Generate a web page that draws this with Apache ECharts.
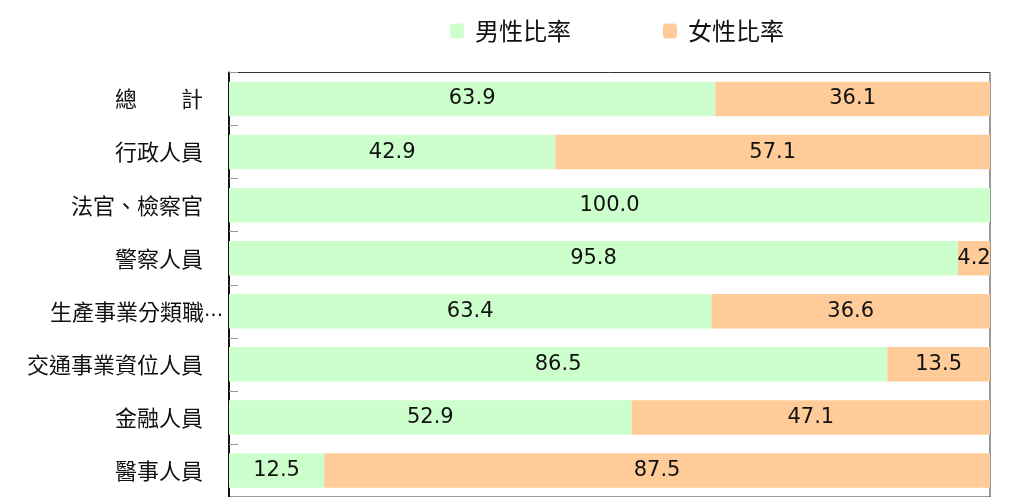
<!DOCTYPE html>
<html>
<head>
<meta charset="utf-8">
<script src="https://cdn.jsdelivr.net/npm/echarts@6/dist/echarts.min.js"></script>
<style>
html,body{margin:0;padding:0;background:#fff;}
#chart{width:1021px;height:497px;}
</style>
</head>
<body>
<div id="chart"></div>
<script>
const categories = ['總　　計','行政人員','法官、檢察官','警察人員','生產事業分類職位人員','交通事業資位人員','金融人員','醫事人員'];
const maleRatio = [63.9, 42.9, 100.0, 95.8, 63.4, 86.5, 52.9, 12.5];
const femaleRatio = [36.1, 57.1, 0, 4.2, 36.6, 13.5, 47.1, 87.5];
const seriesNames = ['男性比率','女性比率'];

const chart = echarts.init(document.getElementById('chart'));
const labelFmt = p => p.value > 0 ? p.value.toFixed(1) : '';
const axisData = categories.map(c => c.length > 8
  ? {value: c, textStyle: {padding: [0, -20, 0, 0]}}
  : c);
chart.setOption({
  animation: false,
  legend: {
    left: 445, top: 14,
    itemWidth: 14, itemHeight: 15, itemGap: 92,
    textStyle: {fontSize: 24, color: '#111', fontFamily: 'Noto Sans CJK TC', padding: [0,0,0,6]},
    data: seriesNames
  },
  grid: {
    left: 229, right: 31, top: 72.5, height: 431,
    show: true, borderColor: '#333', borderWidth: 1
  },
  xAxis: {
    type: 'value', min: 0, max: 100, show: false
  },
  yAxis: {
    type: 'category', data: axisData, inverse: true,
    axisLine: {show: true, lineStyle: {color: '#111', width: 2}},
    axisTick: {show: true, inside: true, length: 9, lineStyle: {color: '#999'}},
    axisLabel: {
      fontSize: 22, color: '#111', fontFamily: 'Noto Sans CJK TC', margin: 26,
      formatter: v => v.length > 8 ? '{a|' + v.slice(0,7) + '}{e|...}' : v,
      rich: {
        a: {fontSize: 22, color: '#111', fontFamily: 'Noto Sans CJK TC'},
        e: {fontSize: 20, color: '#111', fontFamily: 'DejaVu Sans'}
      }
    }
  },
  series: [
    {
      name: seriesNames[0], type: 'bar', stack: 'total', data: maleRatio,
      barCategoryGap: '35%',
      itemStyle: {color: '#CCFFCC'},
      label: {show: true, position: 'inside', color: '#111', fontSize: 21, fontFamily: 'DejaVu Sans', formatter: labelFmt}
    },
    {
      name: seriesNames[1], type: 'bar', stack: 'total', data: femaleRatio,
      barCategoryGap: '35%',
      itemStyle: {color: '#FFCC99'},
      label: {show: true, position: 'inside', color: '#111', fontSize: 21, fontFamily: 'DejaVu Sans', formatter: labelFmt}
    }
  ]
});
</script>
</body>
</html>
